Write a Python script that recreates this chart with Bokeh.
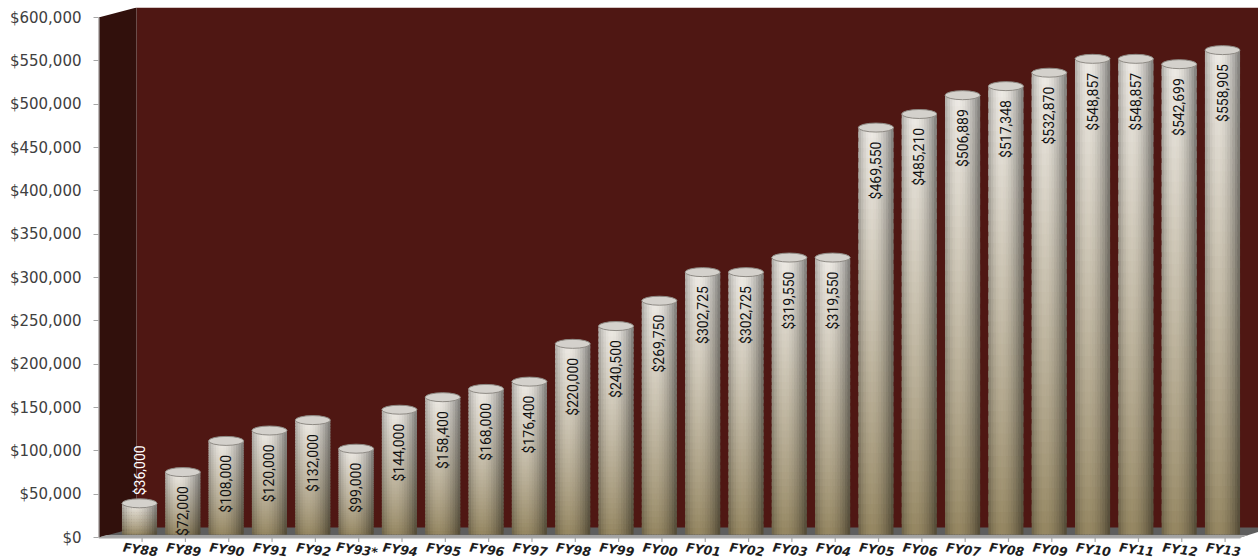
import numpy as np
from bokeh.plotting import figure
from bokeh.models import Range1d, FixedTicker, NumeralTickFormatter, ColumnDataSource
from bokeh.core.properties import value
from bokeh.embed import file_html
from bokeh.resources import INLINE

categories = ["FY88", "FY89", "FY90", "FY91", "FY92", "FY93*", "FY94", "FY95", "FY96",
              "FY97", "FY98", "FY99", "FY00", "FY01", "FY02", "FY03", "FY04", "FY05",
              "FY06", "FY07", "FY08", "FY09", "FY10", "FY11", "FY12", "FY13"]
amounts = [36000, 72000, 108000, 120000, 132000, 99000, 144000, 158400, 168000,
           176400, 220000, 240500, 269750, 302725, 302725, 319550, 319550, 469550,
           485210, 506889, 517348, 532870, 548857, 548857, 542699, 558905]
y_ticks = list(range(0, 600001, 50000))

# ---- pixel <-> data helpers (layout only) ----
K = 520 / 600000.0
X0, DX = 139.0, 43.32


def X(px):
    return (px - X0) / DX


def Y(py):
    return (537 - py) / K


W, H = 1258, 560
p = figure(width=W, height=H, output_backend="svg", toolbar_location=None,
           x_range=Range1d(X(98), X(1258)), y_range=Range1d(Y(560), Y(7)),
           x_axis_location=None, min_border_left=98, min_border_right=0,
           min_border_top=7, min_border_bottom=0)
p.outline_line_color = None
p.background_fill_color = "white"
p.border_fill_color = "white"
p.grid.visible = False

yax = p.yaxis[0]
yax.ticker = FixedTicker(ticks=y_ticks)
yax.formatter = NumeralTickFormatter(format="$0,0")
yax.axis_line_color = None
yax.major_tick_line_color = "#a6a6a6"
yax.major_tick_out = 5
yax.major_tick_in = 0
yax.minor_tick_line_color = None
yax.major_label_text_font = "DejaVu Sans"
yax.major_label_text_font_size = "15px"
yax.major_label_text_color = "#404040"
yax.major_label_standoff = 12

# ---- 3D walls and floor (decoration) ----
p.quad(left=[X(136)], right=[X(1262)], bottom=[Y(528)], top=[Y(7)],
       fill_color="#4f1713", line_color=None)
p.patch([X(98), X(136), X(136), X(98)], [Y(17), Y(7), Y(529), Y(537)],
        fill_color="#31100c", line_color=None)
p.patch([X(98), X(136), X(1262), X(1262), X(1240)],
        [Y(537), Y(527), Y(527), Y(530), Y(537)],
        fill_color="#5e5e5e", line_color=None)
p.patch([X(98), X(106), X(1248), X(1240)],
        [Y(537), Y(534.5), Y(534.5), Y(537)],
        fill_color="#a3a3a3", line_color=None)
# axis lines
p.segment(x0=[X(98.5)], y0=[Y(537)], x1=[X(98.5)], y1=[Y(17)],
          line_color="#a6a6a6", line_width=1.2)
p.segment(x0=[X(98)], y0=[Y(537.5)], x1=[X(1240)], y1=[Y(537.5)],
          line_color="#a6a6a6", line_width=1.2)

n = len(amounts)
idx = np.arange(n)
p.segment(x0=idx + 0.06, y0=[Y(537)] * n, x1=idx + 0.06, y1=[Y(541.5)] * n,
          line_color="#a6a6a6", line_width=1.2)

# ---- cylinder bars built from the values ----
base = Y(534)
hw = 0.405
Nh, Nv = 14, 40
bot_col = np.array([140, 126, 91], float)
top_col = np.array([224, 221, 216], float)


def shade(s):
    pk = 0.38
    if s < pk:
        return 1.06 - 0.30 * ((pk - s) / pk) ** 2
    return 1.06 - 0.50 * ((s - pk) / (1 - pk)) ** 1.8


L, R, B, T, C = [], [], [], [], []
for i, v in enumerate(amounts):
    sw = 2 * hw / Nh
    for a in range(Nh):
        l = i - hw + sw * a
        r = l + sw * (1.6 if a < Nh - 1 else 1.0)
        f = shade((a + 0.5) / Nh)
        for b in range(Nv):
            t = (b + 0.5) / Nv
            col = (bot_col + (top_col - bot_col) * t ** 0.85) * f
            col = np.clip(col, 0, 255).astype(int)
            L.append(l); R.append(r)
            B.append(base + v * b / Nv)
            T.append(base + v * (b + (1.6 if b < Nv - 1 else 1.0)) / Nv)
            C.append("#%02x%02x%02x" % tuple(col))
src = ColumnDataSource(dict(left=L, right=R, bottom=B, top=T, color=C))
p.quad(left="left", right="right", bottom="bottom", top="top", source=src,
       fill_color="color", line_color=None)

tops = [base + v for v in amounts]
p.ellipse(x=idx, y=tops, width=2 * hw, height=9, height_units="screen",
          fill_color="#d4d1cc", line_color="#8e8a84", line_width=1)

# ---- value labels ----
lab = ["${:,}".format(v) for v in amounts]
inside = [i for i, v in enumerate(amounts) if v >= 50000]
outside = [i for i, v in enumerate(amounts) if v < 50000]
p.text(x=[idx[i] for i in inside], y=[tops[i] for i in inside],
       text=[lab[i] for i in inside], angle=np.pi / 2, text_align="right",
       text_baseline="middle", y_offset=14, text_color="#111111",
       text_font=value("Roboto"), text_font_size="14px")
p.text(x=[idx[i] for i in outside], y=[tops[i] for i in outside],
       text=[lab[i] for i in outside], angle=np.pi / 2, text_align="left",
       text_baseline="middle", y_offset=-8, text_color="#ffffff",
       text_font=value("Roboto"), text_font_size="14px")

# ---- category labels ----
p.text(x=idx + 0.02, y=[Y(549)] * n, text=categories, angle=-0.14,
       text_align="center", text_baseline="middle", text_color="#1e1e1e",
       text_font=value("DejaVu Sans"), text_font_style="bold italic",
       text_font_size="12.5px")

open("out.html", "w").write(file_html(p, INLINE))
